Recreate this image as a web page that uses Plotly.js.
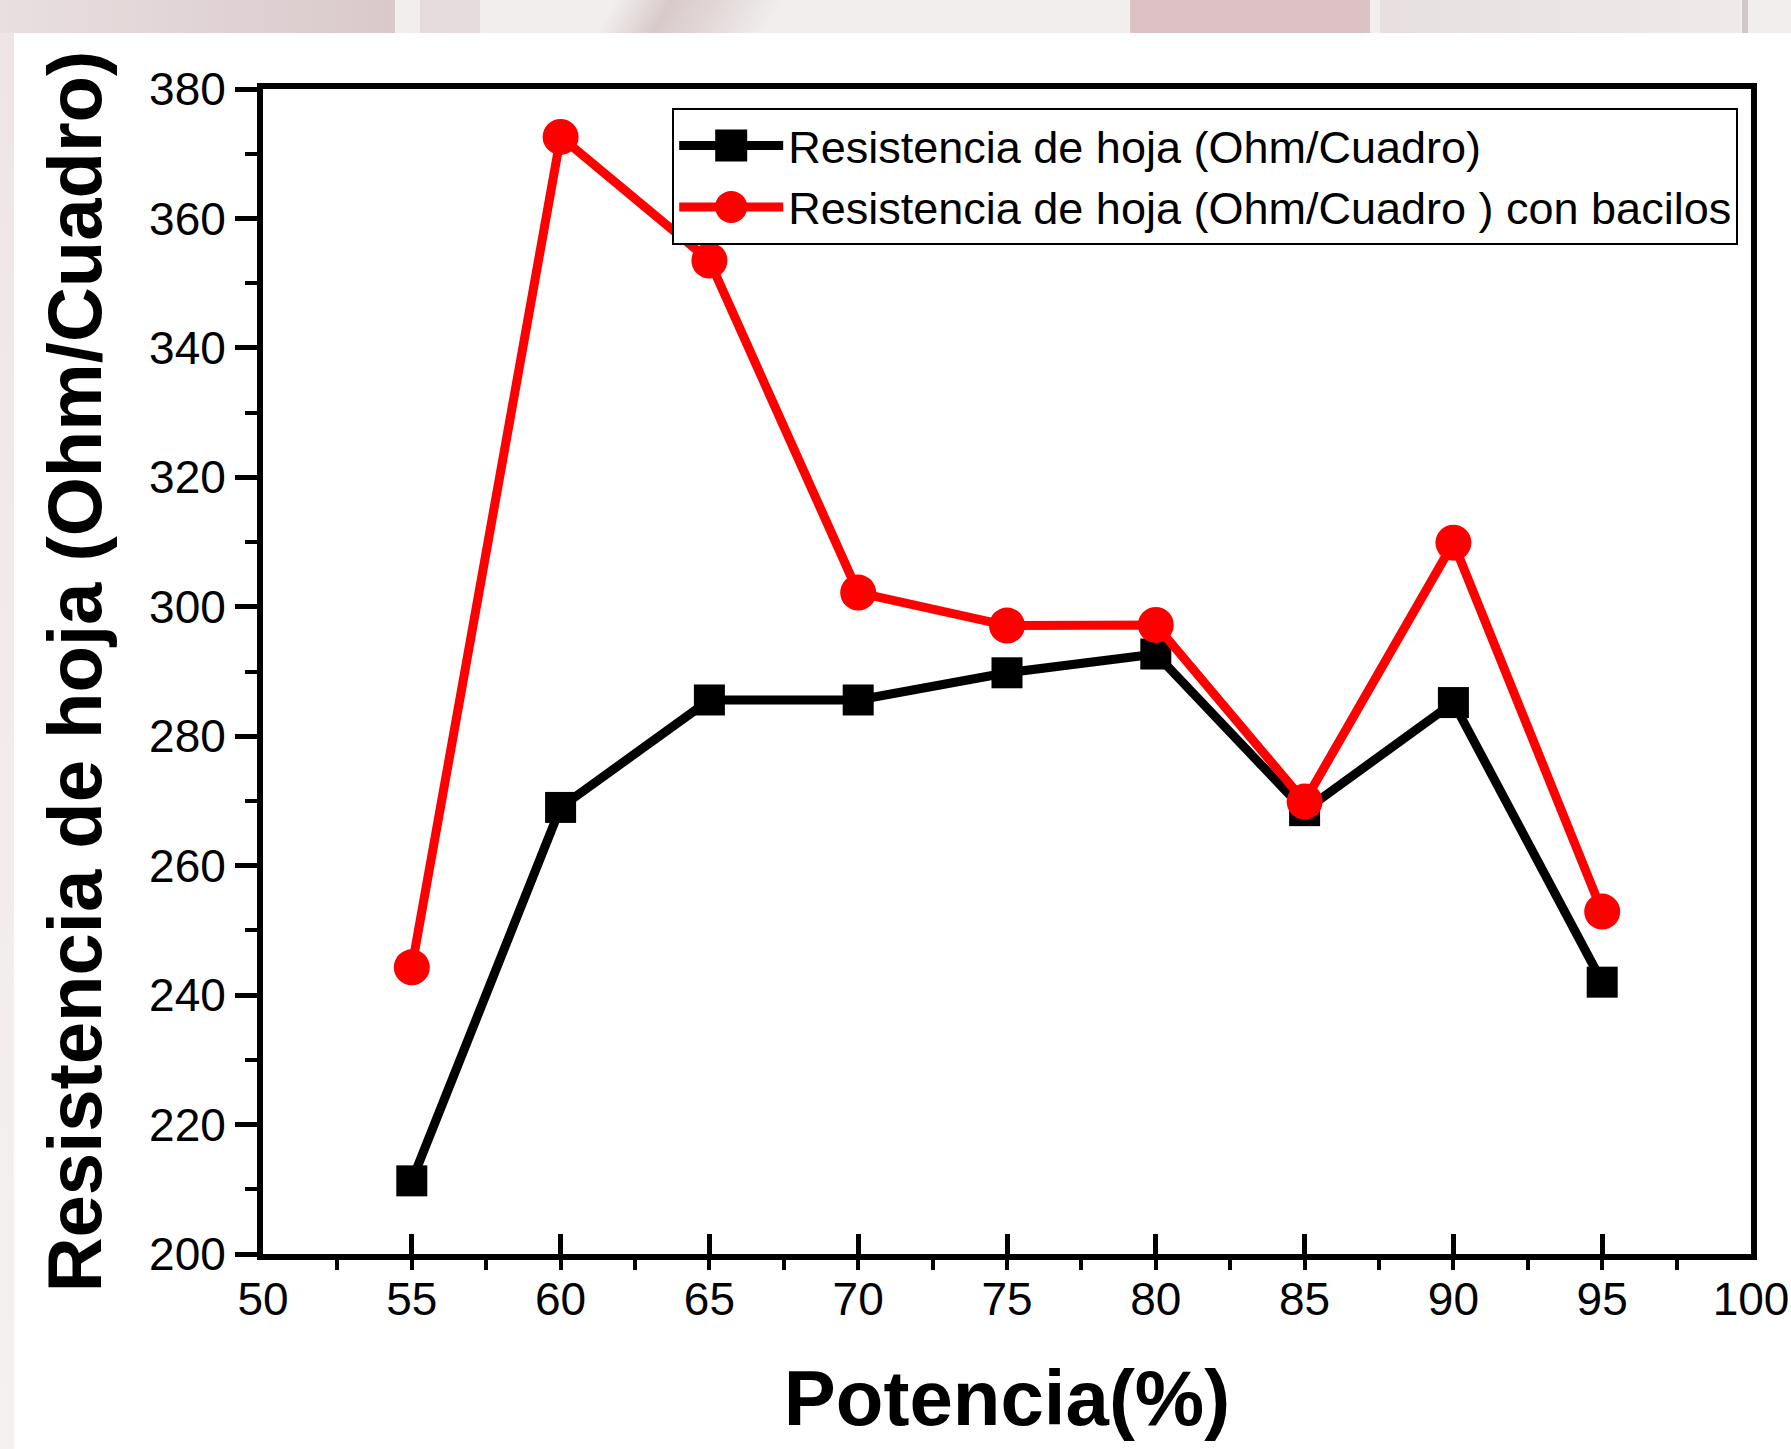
<!DOCTYPE html>
<html>
<head>
<meta charset="utf-8">
<script src="https://cdn.plot.ly/plotly-3.0.1.min.js"></script>
<style>
  html, body { margin: 0; padding: 0; background: #ffffff; }
  #wrap { position: relative; width: 1791px; height: 1449px; overflow: hidden; background: #ffffff; }
  .bg { position: absolute; }
  #chart { position: absolute; left: 0; top: 0; width: 1791px; height: 1449px; }
</style>
</head>
<body>
<div id="wrap">
  <div class="bg" style="left:0;top:0;width:1791px;height:33px;background:#f2eeee;"></div>
  <div class="bg" style="left:0;top:0;width:395px;height:33px;background:linear-gradient(90deg,#e9dfe0,#d9c9cb);"></div>
  <div class="bg" style="left:420px;top:0;width:60px;height:33px;background:#e6dcdd;"></div>
  <div class="bg" style="left:560px;top:0;width:260px;height:33px;background:linear-gradient(120deg,#f2eeee 20%,#d8caca 40%,#e4dada 60%,#f2eeee 80%);"></div>
  <div class="bg" style="left:1130px;top:0;width:240px;height:33px;background:#dcc2c5;"></div>
  <div class="bg" style="left:1380px;top:0;width:360px;height:33px;background:linear-gradient(90deg,#e8e0e0,#efe9e9);"></div>
  <div class="bg" style="left:1742px;top:0;width:6px;height:33px;background:#d0c8c8;"></div>
  <div class="bg" style="left:0;top:33px;width:14px;height:1416px;background:linear-gradient(180deg,#efe5e6,#f6f0f1);"></div>
  <div id="chart"></div>
</div>
<script>
// ---- data ----
var potencia = [55, 60, 65, 70, 75, 80, 85, 90, 95];
var resistencia = [211.3, 269.0, 285.6, 285.6, 289.8, 292.7, 268.5, 285.2, 242.0];
var resistenciaBacilos = [244.3, 372.6, 353.5, 302.2, 297.1, 297.2, 269.9, 309.9, 252.9];
var nombreSerie1 = 'Resistencia de hoja (Ohm/Cuadro)';
var nombreSerie2 = 'Resistencia de hoja (Ohm/Cuadro ) con bacilos';
var tituloX = 'Potencia(%)';
var tituloY = 'Resistencia de hoja (Ohm/Cuadro)';

var sans = '"Liberation Sans", Arial, sans-serif';

var traces = [
  {
    x: potencia, y: resistencia, name: nombreSerie1,
    type: 'scatter', mode: 'lines+markers',
    line: { color: '#000000', width: 9 },
    marker: { symbol: 'square', size: 31, color: '#000000' }
  },
  {
    x: potencia, y: resistenciaBacilos, name: nombreSerie2,
    type: 'scatter', mode: 'lines+markers',
    line: { color: '#ff0000', width: 9 },
    marker: { symbol: 'circle', size: 36, color: '#ff0000' }
  }
];

var layout = {
  width: 1791, height: 1449,
  paper_bgcolor: 'rgba(0,0,0,0)',
  plot_bgcolor: '#ffffff',
  margin: { l: 263, r: 40, t: 89, b: 195, pad: 0 },
  showlegend: true,
  legend: {
    x: 0.275, y: 0.984, xanchor: 'left', yanchor: 'top',
    bgcolor: '#ffffff', bordercolor: '#000000', borderwidth: 2,
    font: { family: sans, size: 45, color: '#000000' },
    itemwidth: 104, tracegroupgap: 0
  },
  xaxis: {
    range: [50, 100], autorange: false,
    tickmode: 'linear', tick0: 50, dtick: 5,
    ticks: 'inside', ticklen: 20, tickwidth: 5, tickcolor: '#000000',
    minor: { ticks: 'outside', dtick: 2.5, tick0: 50, ticklen: 10, tickwidth: 4, tickcolor: '#000000' },
    showline: true, linecolor: '#000000', linewidth: 6, mirror: true,
    showgrid: false, zeroline: false,
    tickfont: { family: sans, size: 46, color: '#000000' },
    ticklabelstandoff: 0,
    title: { text: tituloX, font: { family: sans, size: 78, color: '#000000', weight: 'bold' }, standoff: 48 },
    automargin: false
  },
  yaxis: {
    range: [200, 380], autorange: false,
    tickmode: 'linear', tick0: 200, dtick: 20,
    ticks: 'outside', ticklen: 22, tickwidth: 5, tickcolor: '#000000',
    minor: { ticks: 'outside', dtick: 10, tick0: 200, ticklen: 12, tickwidth: 4, tickcolor: '#000000' },
    showline: true, linecolor: '#000000', linewidth: 6, mirror: true,
    showgrid: false, zeroline: false,
    tickfont: { family: sans, size: 46, color: '#000000' },
    ticklabelstandoff: 0,
    title: { text: tituloY, font: { family: sans, size: 76, color: '#000000', weight: 'bold' }, standoff: 24 },
    automargin: false
  }
};

Plotly.newPlot('chart', traces, layout, { displayModeBar: false, staticPlot: true }).then(function (gd) {
  // enlarge legend samples (Plotly caps legend marker size and line width)
  var pts = gd.querySelectorAll('.legend .legendpoints path.scatterpts');
  pts.forEach(function (p) {
    var t = p.getAttribute('transform') || '';
    p.setAttribute('transform', t + ' scale(2)');
  });
  var lines = gd.querySelectorAll('.legend .legendlines path');
  lines.forEach(function (l) { l.style.strokeWidth = '9px'; });
});
</script>
</body>
</html>
